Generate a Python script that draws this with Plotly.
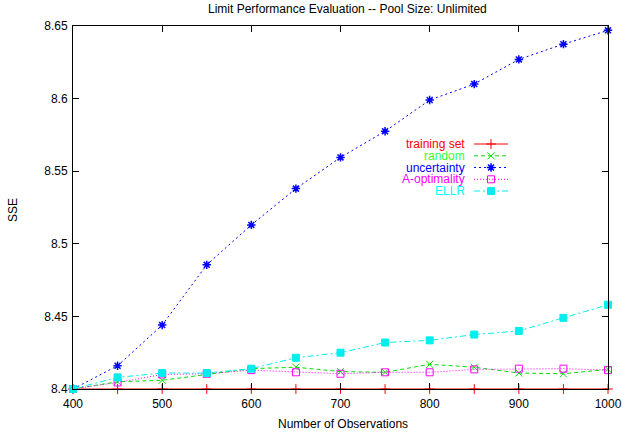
import plotly.graph_objects as go

obs = [400, 450, 500, 550, 600, 650, 700, 750, 800, 850, 900, 950, 1000]
training_set = [8.4] * 13
random_ = [8.4, 8.405, 8.406, 8.410, 8.414, 8.415, 8.412, 8.4115, 8.417, 8.415, 8.411, 8.4105, 8.4135]
uncertainty = [8.4, 8.416, 8.444, 8.4855, 8.513, 8.538, 8.5595, 8.5775, 8.599, 8.610, 8.627, 8.6375, 8.647]
a_optimality = [8.4, 8.4045, 8.410, 8.4105, 8.413, 8.4115, 8.4105, 8.4115, 8.4115, 8.4135, 8.414, 8.414, 8.413]
ellr = [8.4, 8.408, 8.411, 8.411, 8.414, 8.4215, 8.425, 8.432, 8.4335, 8.4375, 8.440, 8.449, 8.458]

series = [
    ("training set", training_set, "#ff0000", "solid", "cross-thin-open", 7, 1),
    ("random", random_, "#00e000", "4px,3px", "x-thin-open", 7, 1),
    ("uncertainty", uncertainty, "#0000ff", "2px,3px", "asterisk-open", 7, 1.5),
    ("A-optimality", a_optimality, "#ff00ff", "1px,2px", "square-open", 7, 1),
    ("ELLR", ellr, "#00eeee", "6px,3px,2px,3px", "square", 7, 1),
]
text_colors = ["#ff0000", "#33ff33", "#0000ff", "#ff00ff", "#00ffff"]

# plot area in pixels
L, R, T, B = 73, 608, 26, 389
W, H = 644, 432


def px_x(px):
    return (px - L) / (R - L)


def px_y(py):
    return (B - py) / (B - T)


fig = go.Figure()
for name, vals, col, dash, sym, sz, mlw in series:
    fig.add_trace(go.Scatter(
        x=obs, y=vals, mode="lines+markers", name=name, showlegend=False,
        line=dict(color=col, width=1, dash=dash),
        marker=dict(symbol=sym, size=sz, color=col, line=dict(color=col, width=mlw)),
        cliponaxis=False,
    ))

# custom legend (text on left, sample on right) on a pixel-coordinate overlay axis
row_y = [144, 155.8, 167.5, 179.3, 191]
for (name, vals, col, dash, sym, sz, mlw), ry, tc in zip(series, row_y, text_colors):
    fig.add_trace(go.Scatter(
        x=[474, 508], y=[ry, ry], xaxis="x2", yaxis="y2", mode="lines",
        line=dict(color=col, width=1, dash=dash), showlegend=False, hoverinfo="skip",
    ))
    fig.add_trace(go.Scatter(
        x=[491], y=[ry], xaxis="x2", yaxis="y2", mode="markers",
        marker=dict(symbol=sym, size=sz, color=col, line=dict(color=col, width=mlw)),
        showlegend=False, hoverinfo="skip", cliponaxis=False,
    ))
    fig.add_annotation(x=467, y=ry, xref="x2", yref="y2", text=name, showarrow=False,
                       xanchor="right", yanchor="middle",
                       font=dict(color=tc, size=12, family="Liberation Sans, Arial, sans-serif"))

font = dict(family="Liberation Sans, Arial, Helvetica, sans-serif", size=12, color="#000000")

fig.add_annotation(x=px_x(347), y=px_y(9), xref="paper", yref="paper",
                   text="Limit Performance Evaluation -- Pool Size: Unlimited",
                   showarrow=False, xanchor="center", yanchor="middle", font=font)
fig.add_annotation(x=px_x(343), y=px_y(424), xref="paper", yref="paper", text="Number of Observations",
                   showarrow=False, xanchor="center", yanchor="middle", font=font)
fig.add_annotation(x=px_x(13), y=px_y(210), xref="paper", yref="paper", text="SSE", textangle=-90,
                   showarrow=False, xanchor="center", yanchor="middle", font=font)

fig.update_layout(
    width=W, height=H,
    margin=dict(l=L, r=W - R, t=T, b=H - B, pad=0),
    paper_bgcolor="white", plot_bgcolor="white",
    font=font,
    showlegend=False,
    xaxis=dict(range=[400, 1000], tickvals=[400, 500, 600, 700, 800, 900, 1000],
               ticks="inside", ticklen=6, tickcolor="black", tickwidth=1,
               showline=True, linecolor="black", linewidth=1, mirror="ticks",
               showgrid=False, zeroline=False, tickfont=font, ticklabelstandoff=4),
    yaxis=dict(range=[8.4, 8.65], tickvals=[8.4, 8.45, 8.5, 8.55, 8.6, 8.65],
               ticktext=["8.4", "8.45", "8.5", "8.55", "8.6", "8.65"],
               ticks="inside", ticklen=6, tickcolor="black", tickwidth=1,
               showline=True, linecolor="black", linewidth=1, mirror="ticks",
               showgrid=False, zeroline=False, tickfont=font, ticklabelstandoff=2),
    xaxis2=dict(range=[L, R], overlaying="x", visible=False, fixedrange=True),
    yaxis2=dict(range=[B, T], overlaying="y", visible=False, fixedrange=True),
)

fig.write_html("out.html", config={"displayModeBar": False})

# remove the browser's default body margin so the figure sits at the page origin
with open("out.html", "r", encoding="utf-8") as f:
    html = f.read()
html = html.replace("<head>", "<head><style>html,body{margin:0;padding:0;overflow:hidden;}</style>", 1)
with open("out.html", "w", encoding="utf-8") as f:
    f.write(html)
